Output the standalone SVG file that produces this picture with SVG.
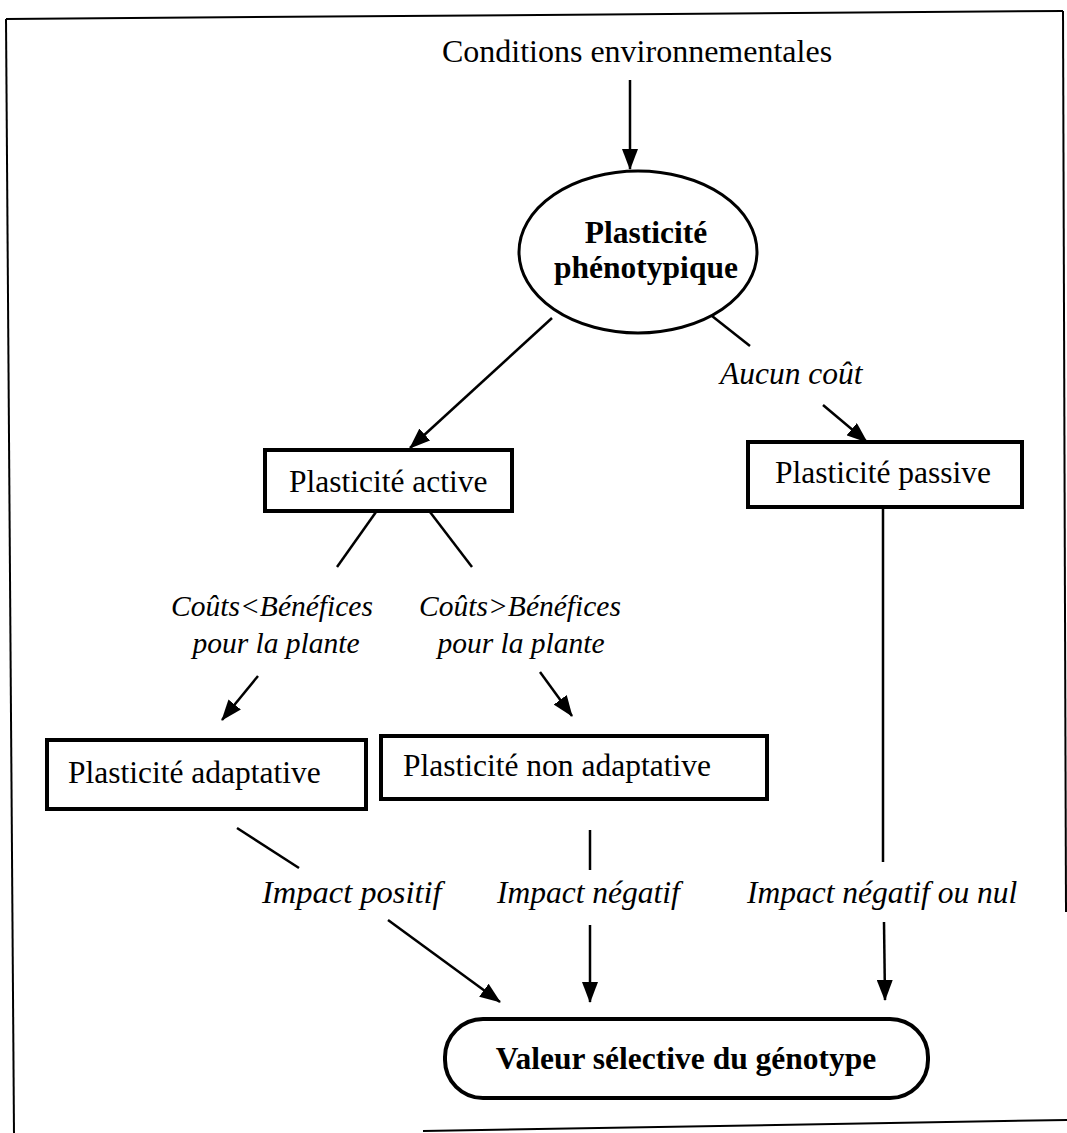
<svg xmlns="http://www.w3.org/2000/svg" width="1067" height="1133" viewBox="0 0 1067 1133">
<style>
text { font-family: "Liberation Serif", "Times New Roman", serif; font-size: 31.5px; fill: #000; }
.b { font-weight: bold; }
.i { font-style: italic; }
.m { text-anchor: middle; }
.c { font-size: 29.5px; }
.box { fill: #fff; stroke: #000; stroke-width: 4; }
.ln { stroke: #000; stroke-width: 2.5; fill: none; }
.ar { stroke: #000; stroke-width: 2.5; fill: none; marker-end: url(#ah); }
.fr { stroke: #000; stroke-width: 2; fill: none; }
</style>
<defs>
<marker id="ah" markerUnits="userSpaceOnUse" markerWidth="21" markerHeight="16" refX="20" refY="8" orient="auto">
<path d="M0,0 L21,8 L0,16 Z" fill="#000"/>
</marker>
</defs>
<rect width="1067" height="1133" fill="#fff"/>
<g id="frame">
<line class="fr" x1="6" y1="19" x2="1063" y2="11"/>
<line class="fr" x1="6" y1="19" x2="14" y2="1133"/>
<line class="fr" x1="1063" y1="11" x2="1066" y2="912"/>
<line class="fr" x1="423" y1="1131" x2="1067" y2="1120"/>
</g>
<g id="connectors">
<line class="ar" x1="630" y1="80" x2="630" y2="169"/>
<line class="ar" x1="552" y1="318" x2="410" y2="448"/>
<line class="ln" x1="712" y1="316" x2="750" y2="346"/>
<line class="ar" x1="823" y1="405" x2="867" y2="442"/>
<line class="ln" x1="376" y1="512" x2="337" y2="567"/>
<line class="ln" x1="430" y1="512" x2="472" y2="567"/>
<line class="ar" x1="258" y1="676" x2="222" y2="720"/>
<line class="ar" x1="540" y1="672" x2="572" y2="716"/>
<line class="ln" x1="237" y1="828" x2="299" y2="868"/>
<line class="ln" x1="590" y1="830" x2="590" y2="870"/>
<line class="ln" x1="883" y1="508" x2="883" y2="862"/>
<line class="ar" x1="388" y1="920" x2="500" y2="1002"/>
<line class="ar" x1="590" y1="925" x2="590" y2="1002"/>
<line class="ar" x1="884" y1="922" x2="885" y2="1000"/>
</g>
<g id="label-conditions">
<text class="m" x="637" y="62" style="font-size:32px">Conditions environnementales</text>
</g>
<g id="node-phenotypique">
<ellipse cx="638" cy="252" rx="119" ry="81" fill="#fff" stroke="#000" stroke-width="3"/>
<text class="b m" x="646" y="243">Plasticité</text>
<text class="b m" x="646" y="278">phénotypique</text>
</g>
<g id="label-aucun">
<text class="i" x="720" y="384">Aucun coût</text>
</g>
<g id="node-active">
<rect class="box" x="265" y="450" width="247" height="61"/>
<text x="289" y="492">Plasticité active</text>
</g>
<g id="node-passive">
<rect class="box" x="748" y="442" width="274" height="65"/>
<text x="775" y="483">Plasticité passive</text>
</g>
<g id="label-couts-inf">
<text class="i m c" x="272" y="616">Coûts&lt;Bénéfices</text>
<text class="i m c" x="276" y="653">pour la plante</text>
</g>
<g id="label-couts-sup">
<text class="i m c" x="520" y="616">Coûts&gt;Bénéfices</text>
<text class="i m c" x="521" y="653">pour la plante</text>
</g>
<g id="node-adaptative">
<rect class="box" x="47" y="740" width="319" height="69"/>
<text x="68" y="783">Plasticité adaptative</text>
</g>
<g id="node-non-adaptative">
<rect class="box" x="381" y="736" width="386" height="63"/>
<text x="403" y="776">Plasticité non adaptative</text>
</g>
<g id="label-impacts">
<text class="i" x="262" y="903" style="font-size:32.5px">Impact positif</text>
<text class="i" x="497" y="903">Impact négatif</text>
<text class="i" x="747" y="903">Impact négatif ou nul</text>
</g>
<g id="node-valeur">
<rect class="box" x="445" y="1019" width="483" height="79" rx="38" ry="38"/>
<text class="b m" x="686" y="1069">Valeur sélective du génotype</text>
</g>
</svg>
